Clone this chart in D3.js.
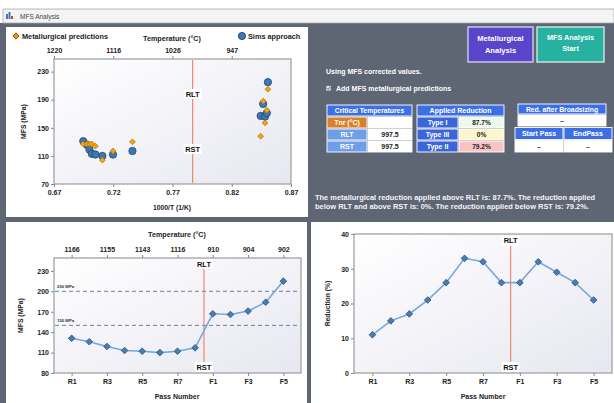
<!DOCTYPE html>
<html>
<head>
<meta charset="utf-8">
<script src="https://cdn.jsdelivr.net/npm/d3@7"></script>
<style>
  html, body { margin: 0; padding: 0; background: #ffffff; }
  svg { display: block; font-family: "Liberation Sans", Arial, sans-serif; }
</style>
</head>
<body>
<svg id="app" width="614" height="403"></svg>
<script>
// ---- data ----------------------------------------------------------------
const passes = ["R1","R2","R3","R4","R5","R6","R7","R8","F1","F2","F3","F4","F5"];
const invTemp = [0.6947,0.6976,0.6999,0.7019,0.7049,0.7108,0.7198,0.7362,
                 0.8444,0.8481,0.8496,0.8465,0.8505];          // 1000/T (1/K)
const mfsSims = [131,126,119,113,112,110,112,117,167,166,171,184,215];   // MPa
const mfsMetallurgical = [127,127,127,127,124,104,117,130,138,157,175,188,205];
const reductionPct = [11,15,17,21,26,33,32,26,26,32,29,26,21];

const invTTicks = [0.67,0.72,0.77,0.82,0.87];
const invTTempTicks = [0.67,0.72,0.77,0.82];
const invTTempLabels = ["1220","1116","1026","947"];
const passTempTicks = ["R1","R3","R5","R7","F1","F3","F5"];
const passTempLabels = ["1166","1155","1143","1116","910","904","902"];
const passAxisTicks = ["R1","R3","R5","R7","F1","F3","F5"];
const mfsTicksTop = [70,110,150,190,230];
const mfsTicksPass = [80,110,140,170,200,230];
const reductionTicks = [0,10,20,30,40];
const mfsRefLines = [200,150];

const rltTemp = 997.5, rstTemp = 997.5;       // °C
const lastRoughPass = "R8", firstFinishPass = "F1";

const critRows = [["Tnr (°C)",""],["RLT","997.5"],["RST","997.5"]];
const reductionRows = [["Type I","87.7%"],["Type III","0%"],["Type II","79.2%"]];
const summaryLines = [
  "The metallurgical reduction applied above RLT is: 87.7%. The reduction applied",
  "below RLT and above RST is: 0%. The reduction applied below RST is: 79.2%."
];

// ---- helpers ---------------------------------------------------------------
const svg = d3.select("#app");
const defs = svg.append("defs");
const grad = defs.append("linearGradient").attr("id","plotbg")
  .attr("x1","0").attr("y1","0").attr("x2","1").attr("y2","1");
grad.append("stop").attr("offset","0").attr("stop-color","#ffffff");
grad.append("stop").attr("offset","1").attr("stop-color","#e7e7f1");

function styleAxis(g){
  g.select(".domain").remove();
  g.selectAll(".tick line").attr("stroke","#8a8a8a");
  g.selectAll(".tick text").attr("fill","#222").style("font-size","7px").style("font-weight","bold");
}
function plotFrame(g, x0, y0, x1, y1){
  g.append("rect").attr("x",x0).attr("y",y0).attr("width",x1-x0).attr("height",y1-y0)
   .attr("fill","url(#plotbg)").attr("stroke","#a3a3a3").attr("stroke-width",1.3);
}
function tag(g, x, y, text){
  const w = 18, h = 10;
  g.append("rect").attr("x",x-w/2).attr("y",y-h/2).attr("width",w).attr("height",h).attr("fill","#fff");
  g.append("text").attr("x",x).attr("y",y+2.7).attr("text-anchor","middle")
   .style("font-size","7.5px").style("font-weight","bold").attr("fill","#111").text(text);
}
function label(g, x, y, text, opts={}){
  const t = g.append("text").attr("x",x).attr("y",y)
   .attr("text-anchor",opts.anchor||"middle").attr("fill",opts.fill||"#222")
   .style("font-size",(opts.size||7.2)+"px").style("font-weight",opts.weight||"bold").text(text);
  if(opts.rotate) t.attr("transform",`rotate(-90,${x},${y})`);
  return t;
}

// ---- window frame ----------------------------------------------------------
svg.append("rect").attr("x",0).attr("y",0).attr("width",614).attr("height",403).attr("fill","#ffffff");
svg.append("rect").attr("x",0).attr("y",23).attr("width",614).attr("height",380).attr("fill","#5e6573");
svg.append("rect").attr("x",3).attr("y",9).attr("width",611).attr("height",14).attr("fill","#f4f4f4")
  .attr("stroke","#a8a8a8").attr("stroke-width",0.8);
// title-bar icon
const icon = svg.append("g");
icon.append("rect").attr("x",6).attr("y",14).attr("width",2).attr("height",5).attr("fill","#3d78c8");
icon.append("rect").attr("x",8.5).attr("y",12).attr("width",2).attr("height",7).attr("fill","#3d78c8");
icon.append("rect").attr("x",11).attr("y",16).attr("width",2).attr("height",3).attr("fill","#d8402a");
label(svg, 20, 18.5, "MFS Analysis", {anchor:"start", size:6.5, weight:"normal", fill:"#444"});

// panels
svg.append("rect").attr("x",6).attr("y",27).attr("width",302).attr("height",190).attr("fill","#fff");
svg.append("rect").attr("x",6).attr("y",222).attr("width",301).attr("height",181).attr("fill","#fff");
svg.append("rect").attr("x",311).attr("y",222).attr("width",303).attr("height",181).attr("fill","#fff");

// ---- top-left: MFS vs 1000/T ----------------------------------------------
{
  const g = svg.append("g");
  const x0 = 54, x1 = 291, y0 = 59, y1 = 184;
  const xs = d3.scaleLinear().domain([0.67,0.87]).range([x0,x1]);
  const ys = d3.scaleLinear().domain([70,248]).range([y1,y0]);
  plotFrame(g, x0, y0, x1, y1);

  g.append("g").attr("transform",`translate(0,${y1})`)
   .call(d3.axisBottom(xs).tickValues(invTTicks).tickSize(3).tickPadding(3).tickFormat(d3.format(".2f")))
   .call(styleAxis);
  g.append("g").attr("transform",`translate(0,${y0})`)
   .call(d3.axisTop(xs).tickValues(invTTempTicks).tickSize(3).tickPadding(3)
     .tickFormat((d,i)=>invTTempLabels[i])).call(styleAxis);
  g.append("g").attr("transform",`translate(${x0},0)`)
   .call(d3.axisLeft(ys).tickValues(mfsTicksTop).tickSize(3).tickPadding(2)).call(styleAxis);

  const xr = xs(1000/(rltTemp+273.15));
  g.append("line").attr("x1",xr).attr("x2",xr).attr("y1",y0+1).attr("y2",y1-1)
   .attr("stroke","#f27d63").attr("stroke-width",1.1);
  tag(g, xr, 94, "RLT");
  tag(g, xs(1000/(rstTemp+273.15)), 149, "RST");

  g.selectAll("path.sims").data(mfsSims).join("path").attr("class","sims")
   .attr("d", d3.symbol(d3.symbolCircle, 42)())
   .attr("transform",(d,i)=>`translate(${xs(invTemp[i])},${ys(d)})`)
   .attr("fill","#3d78b5").attr("stroke","#23466b").attr("stroke-width",0.8);
  g.selectAll("path.met").data(mfsMetallurgical).join("path").attr("class","met")
   .attr("d", d3.symbol(d3.symbolSquare, 17)())
   .attr("transform",(d,i)=>`translate(${xs(invTemp[i])},${ys(d)}) rotate(45)`)
   .attr("fill","#f5a30f").attr("stroke","#b9720a").attr("stroke-width",0.7);

  // legend + titles
  g.append("path").attr("d", d3.symbol(d3.symbolSquare, 20)())
   .attr("transform","translate(16,36) rotate(45)")
   .attr("fill","#f0900e").attr("stroke","#8a4a05").attr("stroke-width",0.9);
  label(g, 22, 38.6, "Metallurgical predictions", {anchor:"start", size:7.3});
  g.append("path").attr("d", d3.symbol(d3.symbolCircle, 40)())
   .attr("transform","translate(242,36)")
   .attr("fill","#3d78b5").attr("stroke","#1f3f60").attr("stroke-width",0.9);
  label(g, 248, 38.6, "Sims approach", {anchor:"start", size:7.3});
  label(g, 172, 40.5, "Temperature (°C)", {size:7.2});
  label(g, 172, 209.5, "1000/T (1/K)", {size:6.8});
  label(g, 25.5, (y0+y1)/2, "MFS (MPa)", {size:6.8, rotate:true});
}

// ---- bottom-left: MFS per pass --------------------------------------------
{
  const g = svg.append("g");
  const x0 = 54, x1 = 301, y0 = 258, y1 = 373;
  const xs = d3.scalePoint().domain(passes).range([x0,x1]).padding(1);
  const ys = d3.scaleLinear().domain([80,249]).range([y1,y0]);
  plotFrame(g, x0, y0, x1, y1);

  g.append("g").attr("transform",`translate(0,${y1})`)
   .call(d3.axisBottom(xs).tickValues(passAxisTicks).tickSize(3).tickPadding(3)).call(styleAxis);
  g.append("g").attr("transform",`translate(0,${y0})`)
   .call(d3.axisTop(xs).tickValues(passTempTicks).tickSize(3).tickPadding(3)
     .tickFormat((d,i)=>passTempLabels[i])).call(styleAxis);
  g.append("g").attr("transform",`translate(${x0},0)`)
   .call(d3.axisLeft(ys).tickValues(mfsTicksPass).tickSize(3).tickPadding(2)).call(styleAxis);

  mfsRefLines.forEach(v=>{
    g.append("line").attr("x1",x0+1).attr("x2",x1-1).attr("y1",ys(v)).attr("y2",ys(v))
     .attr("stroke","#5d7390").attr("stroke-width",0.9).attr("stroke-dasharray","4,3");
    label(g, x0+3, ys(v)-3.5, `${v} MPa`, {anchor:"start", size:4.3, fill:"#333"});
  });

  const xr = (xs(lastRoughPass)+xs(firstFinishPass))/2;
  g.append("line").attr("x1",xr).attr("x2",xr).attr("y1",y0+10).attr("y2",y1-1)
   .attr("stroke","#f27d63").attr("stroke-width",1.1);
  tag(g, xr, 264, "RLT");
  tag(g, xr, 367, "RST");

  g.append("path").datum(mfsSims)
   .attr("d", d3.line().x((d,i)=>xs(passes[i])).y(d=>ys(d)))
   .attr("fill","none").attr("stroke","#74a9dc").attr("stroke-width",1.6);
  g.selectAll("path.pt").data(mfsSims).join("path").attr("class","pt")
   .attr("d", d3.symbol(d3.symbolSquare, 22)())
   .attr("transform",(d,i)=>`translate(${xs(passes[i])},${ys(d)}) rotate(45)`)
   .attr("fill","#477db2").attr("stroke","#2c5680").attr("stroke-width",0.8);

  label(g, 177, 236.6, "Temperature (°C)", {size:7.2});
  label(g, 177, 399, "Pass Number", {size:7});
  label(g, 23, (y0+y1)/2, "MFS (MPa)", {size:6.8, rotate:true});
}

// ---- bottom-right: reduction per pass -------------------------------------
{
  const g = svg.append("g");
  const x0 = 354, x1 = 612, y0 = 234, y1 = 373;
  const xs = d3.scalePoint().domain(passes).range([x0,x1]).padding(1);
  const ys = d3.scaleLinear().domain([0,40]).range([y1,y0]);
  plotFrame(g, x0, y0, x1, y1);

  g.append("g").attr("transform",`translate(0,${y1})`)
   .call(d3.axisBottom(xs).tickValues(passAxisTicks).tickSize(3).tickPadding(3)).call(styleAxis);
  g.append("g").attr("transform",`translate(${x0},0)`)
   .call(d3.axisLeft(ys).tickValues(reductionTicks).tickSize(3).tickPadding(2)).call(styleAxis);

  const xr = (xs(lastRoughPass)+xs(firstFinishPass))/2;
  g.append("line").attr("x1",xr).attr("x2",xr).attr("y1",y0+10).attr("y2",y1-1)
   .attr("stroke","#f27d63").attr("stroke-width",1.1);
  tag(g, xr, 240.7, "RLT");
  tag(g, xr, 367, "RST");

  g.append("path").datum(reductionPct)
   .attr("d", d3.line().x((d,i)=>xs(passes[i])).y(d=>ys(d)))
   .attr("fill","none").attr("stroke","#74a9dc").attr("stroke-width",1.6);
  g.selectAll("path.pt").data(reductionPct).join("path").attr("class","pt")
   .attr("d", d3.symbol(d3.symbolSquare, 22)())
   .attr("transform",(d,i)=>`translate(${xs(passes[i])},${ys(d)}) rotate(45)`)
   .attr("fill","#477db2").attr("stroke","#2c5680").attr("stroke-width",0.8);

  label(g, 483, 399, "Pass Number", {size:7});
  label(g, 330, (y0+y1)/2, "Reduction (%)", {size:6.8, rotate:true});
}

// ---- top-right: controls and tables ---------------------------------------
{
  const g = svg.append("g");
  // buttons
  g.append("rect").attr("x",468).attr("y",27).attr("width",65).attr("height",35)
   .attr("fill","#5a44c9").attr("stroke","#d0cdee").attr("stroke-width",1.4);
  label(g, 500.5, 41, "Metallurgical", {size:7.6, fill:"#fff"});
  label(g, 500.5, 52.7, "Analysis", {size:7.6, fill:"#fff"});
  g.append("rect").attr("x",537).attr("y",27).attr("width",67).attr("height",35)
   .attr("fill","#27b1a1").attr("stroke","#cfe9e5").attr("stroke-width",1.4);
  label(g, 570.5, 40.4, "MFS Analysis", {size:7.3, fill:"#fff"});
  label(g, 570.5, 51, "Start", {size:7.3, fill:"#fff"});

  label(g, 326, 74.3, "Using MFS corrected values.", {anchor:"start", size:7, fill:"#fff"});
  g.append("rect").attr("x",326.3).attr("y",86).attr("width",4.5).attr("height",4.5)
   .attr("fill","#e8e8e8").attr("stroke","#bbb").attr("stroke-width",0.4);
  g.append("path").attr("d","M327.2,88.3 L328.3,89.5 L330.1,87")
   .attr("fill","none").attr("stroke","#333").attr("stroke-width",0.8);
  label(g, 336, 91, "Add MFS metallurgical predictions", {anchor:"start", size:7, fill:"#fff"});

  function cell(x, y, w, h, fill, text, tfill, size){
    g.append("rect").attr("x",x).attr("y",y).attr("width",w).attr("height",h)
     .attr("fill",fill).attr("stroke","#ffffff").attr("stroke-width",0.9);
    if(text) label(g, x+w/2, y+h/2+2.5, text, {size:size||7, fill:tfill});
  }
  // critical temperatures
  cell(327,105,85,11,"#3d6fe4","Critical Temperatures","#fff",6.8);
  critRows.forEach((r,i)=>{
    const y = 117 + i*12;
    cell(327,y,40,11, i===0 ? "#d9812a" : "#6e9de9", r[0], "#fff");
    cell(368,y,44,11,"#ffffff", r[1], "#222");
  });
  // applied reduction
  cell(417,105,87,11,"#3d6fe4","Applied Reduction","#fff",7);
  const redFills = ["#ecfaec","#fdf6cd","#f9c3c3"];
  reductionRows.forEach((r,i)=>{
    const y = 117 + i*12;
    cell(417,y,41,11,"#3a66d9", r[0], "#fff");
    cell(459,y,45,11, redFills[i], r[1], "#222", 6.6);
  });
  // broadsizing
  cell(518,104,88,10,"#3d6fe4","Red. after Broadsizing","#fff",6.8);
  cell(518,115,88,11,"#ffffff","–","#333");
  cell(515,127.5,48,12,"#3d6fe4","Start Pass","#fff",7);
  cell(564,127.5,48,12,"#3d6fe4","EndPass","#fff",7);
  cell(515,140.5,48,11.5,"#ffffff","–","#333");
  cell(564,140.5,48,11.5,"#ffffff","–","#333");

  summaryLines.forEach((s,i)=>{
    label(g, 315, 200.2 + i*8.5, s, {anchor:"start", size:7.45, fill:"#f4f4f4"});
  });
}
</script>
</body>
</html>
